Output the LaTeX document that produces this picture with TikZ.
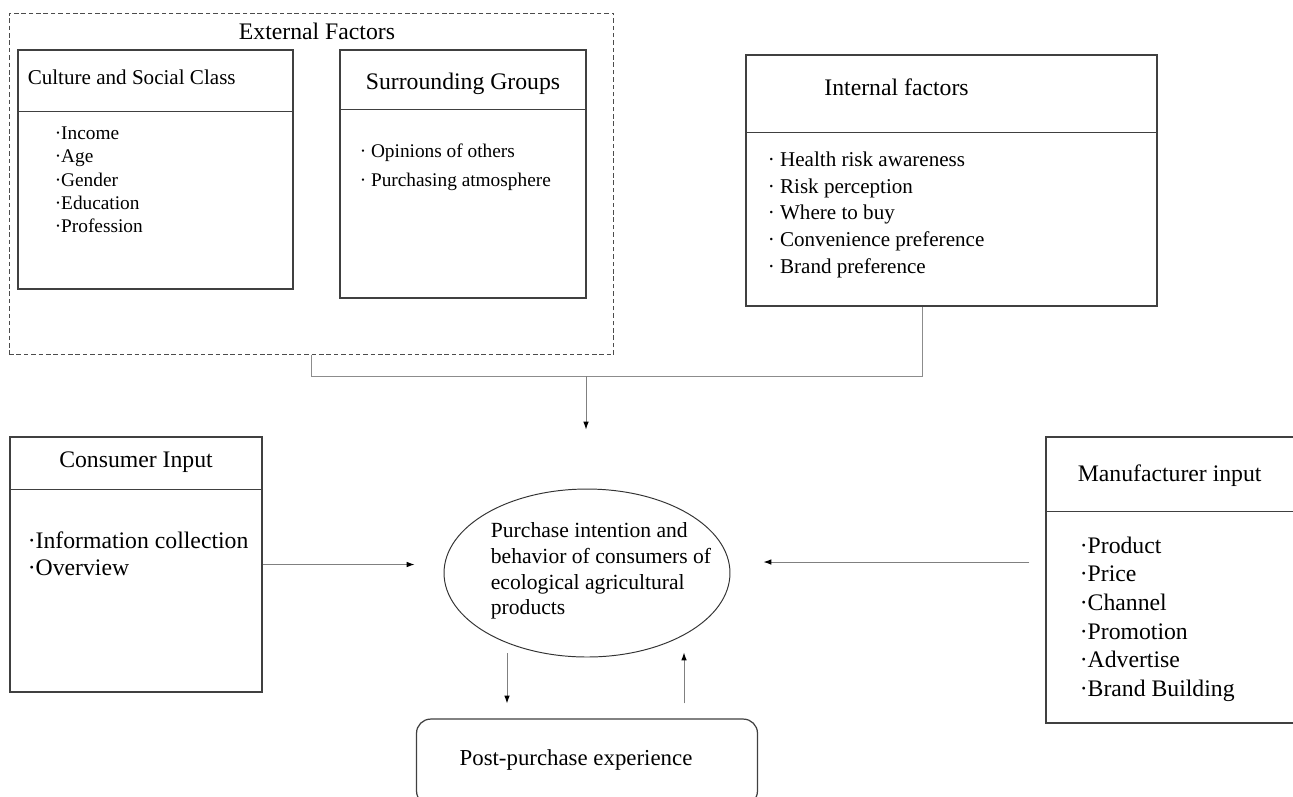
\documentclass[tikz,border=0pt]{standalone}
\usepackage{fontspec}
\setmainfont{Liberation Serif}
\usetikzlibrary{positioning, arrows.meta, calc, shapes.geometric}
\tikzset{
    x=0.02cm, y=-0.02cm, % one unit is one pixel of the drawing, y runs down
    panel/.style={ % boxes with a heading
        draw=black!75,
        line width=0.7pt,
        inner sep=0pt
    },
    rule/.style={draw=black!75, line width=0.7pt}, % line under a heading
    frame/.style={
        draw=black!70,
        line width=0.55pt,
        dash pattern=on 2.6pt off 1.6pt,
        inner sep=0pt
    },
    link/.style={draw=black!45, line width=0.55pt},
    arr/.style={ % connectors
        draw=black!50,
        line width=0.55pt,
        -{Latex[length=4.5pt,width=3.2pt,black]}
    },
    head/.style={font=\fontsize{13.5pt}{16pt}\selectfont, inner sep=0pt},
    itemsS/.style={align=left, anchor=north west, inner sep=0pt},
}

\begin{document}
\begin{tikzpicture}
    \useasboundingbox (0,0) rectangle (1293,796);
    \fill[white] (0,0) rectangle (1293,796);

    % external factors
    \node[frame, minimum width=12.1cm, minimum height=6.84cm] (ext) at (311.5,184) {};
    \node[head] (extt) at ($(ext.north)+(5.5,19)$) {External Factors};

    \node[panel, minimum width=5.5cm, minimum height=4.78cm] (cult) at (155.5,169.5) {};
    \draw[rule] ($(cult.north west)+(0,62)$) -- ($(cult.north east)+(0,62)$);
    \node[head, font=\fontsize{12pt}{14pt}\selectfont, anchor=west] (cultt) at ($(cult.north west)+(10,28)$) {Culture and Social Class};
    \node[itemsS, font=\fontsize{11pt}{13.3pt}\selectfont] (culti) at ($(cult.north west)+(37,77)$)
        {·Income\\·Age\\·Gender\\·Education\\·Profession};

    \node[panel, minimum width=4.92cm, minimum height=4.96cm] (surr) at (463,174) {};
    \draw[rule] ($(surr.north west)+(0,60)$) -- ($(surr.north east)+(0,60)$);
    \node[head] (surrt) at ($(surr.north)+(0,34)$) {Surrounding Groups};
    \node[itemsS, font=\fontsize{11pt}{16.4pt}\selectfont] (surri) at ($(surr.north west)+(20,94)$)
        {· Opinions of others\\· Purchasing atmosphere};

    % internal factors
    \node[panel, minimum width=8.22cm, minimum height=5.02cm] (intl) at (951.5,180.5) {};
    \draw[rule] ($(intl.north west)+(0,78)$) -- ($(intl.north east)+(0,78)$);
    \node[head] (intlt) at ($(intl.north)+(-55,33)$) {Internal factors};
    \node[itemsS, font=\fontsize{12pt}{15.2pt}\selectfont] (intli) at ($(intl.north west)+(22,97)$)
        {· Health risk awareness\\· Risk perception\\· Where to buy\\· Convenience preference\\· Brand preference};

    % centre
    \node[ellipse, draw=black!80, line width=0.55pt, minimum width=5.72cm, minimum height=3.36cm] (purch) at (587,573) {};
    \node[align=left, inner sep=0pt, font=\fontsize{12.3pt}{14.6pt}\selectfont] (purcht) at ($(purch.center)+(14,-2)$)
        {Purchase intention and\\behavior of consumers of\\ecological agricultural\\products};

    \node[panel, rounded corners=8pt, minimum width=6.82cm, minimum height=1.72cm, below=1.22cm of purch] (post) {};
    \node[font=\fontsize{13pt}{15pt}\selectfont, inner sep=0pt] (postt) at ($(post.center)+(-11,-2)$) {Post-purchase experience};

    % inputs
    \node[panel, minimum width=5.04cm, minimum height=5.1cm] (cons) at (136,564.5) {};
    \draw[rule] ($(cons.north west)+(0,53)$) -- ($(cons.north east)+(0,53)$);
    \node[head] (const) at ($(cons.north)+(0,26)$) {Consumer Input};
    \node[itemsS, font=\fontsize{13.5pt}{15.3pt}\selectfont] (consi) at ($(cons.north west)+(18,95)$)
        {·Information collection\\·Overview};

    \node[panel, minimum width=5.28cm, minimum height=5.72cm] (mfr) at (1178,580) {};
    \draw[rule] ($(mfr.north west)+(0,75)$) -- ($(mfr.north east)+(0,75)$);
    \node[head, anchor=west] (mfrt) at ($(mfr.north west)+(32,39)$) {Manufacturer input};
    \node[itemsS, font=\fontsize{13.5pt}{16.3pt}\selectfont] (mfri) at ($(mfr.north west)+(34,100)$)
        {·Product\\·Price\\·Channel\\·Promotion\\·Advertise\\·Brand Building};

    % connectors
    \coordinate (join) at (586,376);
    \draw[link] (ext.south) |- (join) -| ($(intl.south)+(-29.5,0)$);
    \draw[arr, shorten >=1.18cm] (join) -- (join |- purch.north);
    \draw[arr, shorten >=0.58cm] (cons.east) -- (cons.east -| purch.west);
    \draw[arr, shorten <=0.32cm, shorten >=0.66cm] ([yshift=0.36cm]mfr.west) -- ([yshift=0.36cm]mfr.west -| purch.east);
    \draw[arr] ($(purch.south)+(-80,-4)$) -- ($(post.north)+(-80,-15)$);
    \draw[arr] ($(post.north)+(97,-15)$) -- ($(purch.south)+(97,-5)$);
\end{tikzpicture}
\end{document}
